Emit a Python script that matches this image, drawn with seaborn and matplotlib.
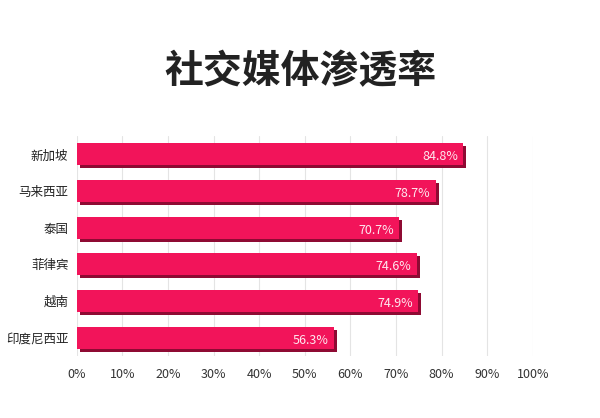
import matplotlib.pyplot as plt
import matplotlib.transforms as mtransforms
import pandas as pd
import seaborn as sns

countries = ['新加坡', '马来西亚', '泰国', '菲律宾', '越南', '印度尼西亚']
rates = [84.8, 78.7, 70.7, 74.6, 74.9, 56.3]
ticks = [0, 10, 20, 30, 40, 50, 60, 70, 80, 90, 100]
tick_labels = [f'{t}%' for t in ticks]

df = pd.DataFrame({'country': countries, 'rate': rates})

sns.set_theme(style='white')
plt.rcParams['font.family'] = ['Noto Sans CJK SC', 'DejaVu Sans']

fig = plt.figure(figsize=(6, 4.18), dpi=100)
ax = fig.add_axes([0.128, 1 - 356 / 418, 0.76, 220 / 418])

# darker copy of the bars, nudged down-right, gives the 3D edge
sns.barplot(data=df, y='country', x='rate', orient='h', color='#8e0a33',
            width=0.6, saturation=1, linewidth=0, ax=ax)
shift = mtransforms.ScaledTranslation(3 / 100, -3 / 100, fig.dpi_scale_trans)
for p in ax.patches:
    p.set_transform(ax.transData + shift)
n_dark = len(ax.patches)

sns.barplot(data=df, y='country', x='rate', orient='h', color='#f2145a',
            width=0.6, saturation=1, linewidth=0, ax=ax)

for p, v in zip(ax.patches[n_dark:], rates):
    ax.text(p.get_width() - 1.2, p.get_y() + p.get_height() * 0.62, f'{v}%',
            ha='right', va='center', color='white', fontsize=9, alpha=0.9,
            family=['Noto Sans CJK SC', 'DejaVu Sans'])

ax.set_xlim(0, 100)
ax.set_xticks(ticks)
ax.set_xticklabels(tick_labels, fontsize=9, color='#333333')
ax.tick_params(axis='y', labelsize=9, colors='#222222', length=0, pad=6)
ax.tick_params(axis='x', length=0, pad=9)
ax.xaxis.grid(True, color='#e4e4e4', linewidth=0.8)
ax.set_axisbelow(True)
ax.set_xlabel('')
ax.set_ylabel('')
for s in ax.spines.values():
    s.set_visible(False)

fig.text(0.5, 1 - 72 / 418, '社交媒体渗透率', ha='center', va='center',
         fontsize=28, fontweight='bold', color='#222222')

fig.savefig('out.png', dpi=100, facecolor='white')
